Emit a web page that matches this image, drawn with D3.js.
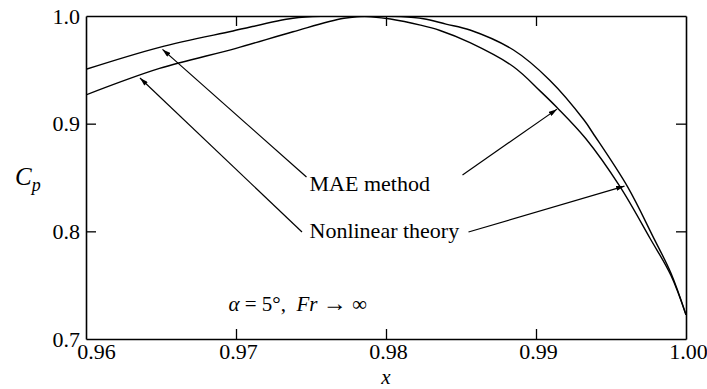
<!DOCTYPE html>
<html>
<head>
<meta charset="utf-8">
<script src="https://cdn.jsdelivr.net/npm/d3@7"></script>
</head>
<body style="margin:0">
<div id="chart"></div>
<script>
// values
const xMAE = [0.9600, 0.9649, 0.9698, 0.9738, 0.9761, 0.9775, 0.9790, 0.9803, 0.9823, 0.9836, 0.9856, 0.9885, 0.9903, 0.9914, 0.9933, 0.9956, 0.9976, 0.9990, 1.0000];
const cpMAE = [0.9505, 0.9709, 0.9861, 0.9979, 0.9998, 1.0000, 0.9992, 0.9972, 0.9915, 0.9865, 0.9752, 0.9529, 0.9300, 0.9150, 0.8864, 0.8415, 0.7936, 0.7590, 0.7224];

const xNL = [0.9600, 0.9649, 0.9700, 0.9738, 0.9772, 0.9794, 0.9810, 0.9825, 0.9840, 0.9856, 0.9885, 0.9909, 0.9932, 0.9938, 0.9961, 0.9978, 0.9990, 1.0000];
const cpNL = [0.9267, 0.9513, 0.9700, 0.9854, 0.9979, 1.0000, 0.9995, 0.9975, 0.9925, 0.9870, 0.9684, 0.9406, 0.9034, 0.8911, 0.8415, 0.7951, 0.7610, 0.7224];

const xTicks = [0.96, 0.97, 0.98, 0.99, 1.00];
const xTickLabels = ["0.96", "0.97", "0.98", "0.99", "1.00"];
const yTicks = [0.7, 0.8, 0.9, 1.0];
const yTickLabels = ["0.7", "0.8", "0.9", "1.0"];

// leader lines: label text, text position, and two arrows [from, to] in data units
const labels = [
  { text: "MAE method", x: 0.9749, y: 0.8375,
    arrows: [[[0.9747, 0.8505], [0.9651, 0.9690]], [[0.9851, 0.8524], [0.9914, 0.9135]]] },
  { text: "Nonlinear theory", x: 0.9749, y: 0.7939,
    arrows: [[[0.9744, 0.7994], [0.9636, 0.9424]], [[0.9855, 0.7994], [0.9959, 0.8420]]] }
];
const note = { x: 0.9695, y: 0.7264 };

const width = 707, height = 389;
const margin = { top: 16, right: 21, bottom: 50, left: 86 };
const w = width - margin.left - margin.right;
const h = height - margin.top - margin.bottom;
const font = "'Liberation Serif'";

const svg = d3.select("#chart").append("svg")
  .attr("width", width)
  .attr("height", height);

const g = svg.append("g")
  .attr("transform", "translate(" + margin.left + "," + margin.top + ")");

const x = d3.scaleLinear().domain([0.96, 1.0]).range([0, w]);
const y = d3.scaleLinear().domain([0.7, 1.0]).range([h, 0]);

g.append("clipPath").attr("id", "clip")
  .append("rect").attr("width", w).attr("height", h);

const line = d3.line()
  .x(d => x(d[0]))
  .y(d => y(d[1]))
  .curve(d3.curveCatmullRom.alpha(0.5));

[[xMAE, cpMAE], [xNL, cpNL]].forEach(function (s) {
  g.append("path")
    .datum(s[0].map((v, i) => [v, s[1][i]]))
    .attr("clip-path", "url(#clip)")
    .attr("fill", "none")
    .attr("stroke", "#000")
    .attr("stroke-width", 1.4)
    .attr("d", line);
});

// axes, ticks pointing inward
const inner = [0.97, 0.98, 0.99];
const innerY = [0.8, 0.9];

const xAxis = g.append("g")
  .attr("transform", "translate(0," + h + ")")
  .call(d3.axisBottom(x).tickValues(xTicks).tickSize(-10).tickSizeOuter(0).tickPadding(4)
    .tickFormat((d, i) => xTickLabels[i]));
xAxis.selectAll(".tick line").filter(d => d == 0.96 || d == 1.0).remove();
xAxis.selectAll(".tick text")
  .attr("dx", d => d == 0.96 ? 10 : 2);

const yAxis = g.append("g")
  .call(d3.axisLeft(y).tickValues(yTicks).tickSize(-10).tickSizeOuter(0).tickPadding(6)
    .tickFormat((d, i) => yTickLabels[i]));
yAxis.selectAll(".tick line").filter(d => d == 0.7 || d == 1.0).remove();

g.append("g")
  .call(d3.axisTop(x).tickValues(inner).tickSize(-10).tickSizeOuter(0).tickFormat(""));
g.append("g")
  .attr("transform", "translate(" + w + ",0)")
  .call(d3.axisRight(y).tickValues(innerY).tickSize(-10).tickSizeOuter(0).tickFormat(""));

g.selectAll(".domain").attr("stroke", "#000").attr("stroke-width", 1.6);
g.selectAll(".tick line").attr("stroke", "#000").attr("stroke-width", 1.3);
g.selectAll(".tick text")
  .attr("fill", "#000")
  .style("font-family", font)
  .style("font-size", "22px");

// arrowhead
svg.append("defs").append("marker")
  .attr("id", "head")
  .attr("viewBox", "0 0 10 6")
  .attr("refX", 10).attr("refY", 3)
  .attr("markerWidth", 9).attr("markerHeight", 5)
  .attr("markerUnits", "userSpaceOnUse")
  .attr("orient", "auto")
  .append("path").attr("d", "M0,0L10,3L0,6Z").attr("fill", "#000");

labels.forEach(function (l) {
  g.append("text")
    .attr("x", x(l.x))
    .attr("y", y(l.y))
    .style("font-family", font)
    .style("font-size", "22px")
    .text(l.text);
  l.arrows.forEach(function (a) {
    g.append("line")
      .attr("x1", x(a[0][0])).attr("y1", y(a[0][1]))
      .attr("x2", x(a[1][0])).attr("y2", y(a[1][1]))
      .attr("stroke", "#000")
      .attr("stroke-width", 1.2)
      .attr("marker-end", "url(#head)");
  });
});

const nt = g.append("text")
  .attr("x", x(note.x))
  .attr("y", y(note.y))
  .style("font-family", font)
  .style("font-size", "21px")
  .style("white-space", "pre");
nt.append("tspan").style("font-style", "italic").text("α");
nt.append("tspan").text(" = 5°,  ");
nt.append("tspan").style("font-style", "italic").text("Fr");
nt.append("tspan").text(" ").append("tspan").style("font-size", "24px").text("→");
nt.append("tspan").text(" ∞");

// axis titles
const yl = svg.append("text")
  .attr("x", 15)
  .attr("y", 185)
  .style("font-family", font)
  .style("font-size", "25px")
  .style("font-style", "italic");
yl.append("tspan").text("C");
yl.append("tspan").attr("dy", 6).style("font-size", "18px").text("p");

svg.append("text")
  .attr("x", margin.left + w / 2)
  .attr("y", 384)
  .attr("text-anchor", "middle")
  .style("font-family", font)
  .style("font-size", "21px")
  .style("font-style", "italic")
  .text("x");
</script>
</body>
</html>
